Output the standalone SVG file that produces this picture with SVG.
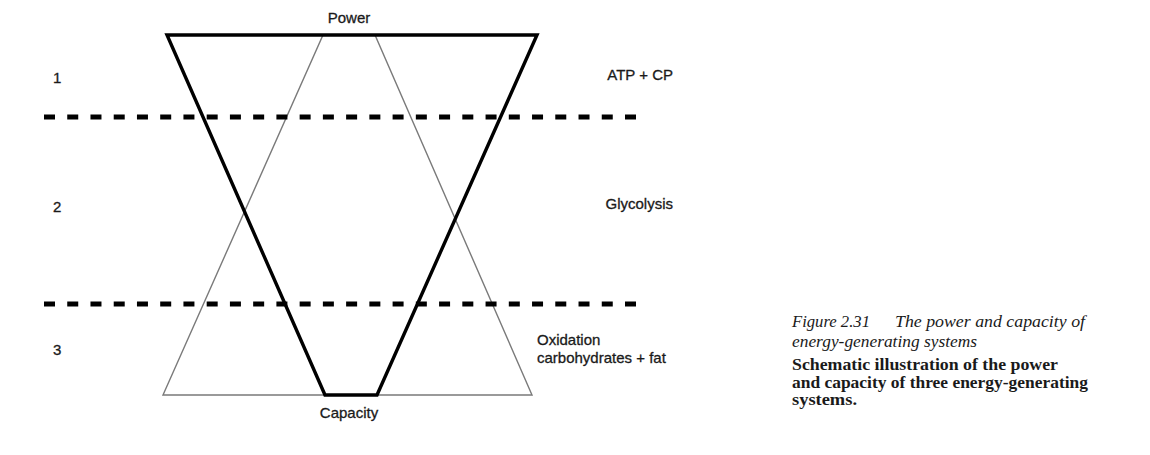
<svg xmlns="http://www.w3.org/2000/svg" width="1150" height="455" viewBox="0 0 1150 455">
  <style>
    .lbl { font-family: "Liberation Sans", Arial, sans-serif; font-size: 15px; fill: #1a1a1a; stroke: #1a1a1a; stroke-width: 0.3; }
    .cap { font-family: "Liberation Serif", "Times New Roman", serif; font-size: 16.5px; fill: #1a1a1a; }
    .capi { font-style: italic; }
    .capb { font-weight: bold; }
    .thick { fill: none; stroke: #000; stroke-width: 3.4; stroke-linejoin: miter; }
    .thin { fill: none; stroke: #7a7a7a; stroke-width: 1.4; }
    .dash { stroke: #000; stroke-width: 4.8; stroke-dasharray: 11 12.24; }
  </style>
  <rect width="1150" height="455" fill="#fff"/>
  <g id="capacity-triangle">
    <polygon class="thin" points="323,35 375,35 532,395 163,395"/>
  </g>
  <g id="power-triangle">
    <polygon class="thick" points="167,35 537,35 377,395 325,395"/>
  </g>
  <g id="dividers">
    <line class="dash" x1="44" y1="117" x2="636" y2="117"/>
    <line class="dash" x1="44" y1="304" x2="636" y2="304"/>
  </g>
  <g id="axis-labels">
    <text class="lbl" x="349" y="23" text-anchor="middle">Power</text>
    <text class="lbl" x="349" y="418" text-anchor="middle">Capacity</text>
  </g>
  <g id="zone-numbers">
    <text class="lbl" x="53" y="83">1</text>
    <text class="lbl" x="53" y="212">2</text>
    <text class="lbl" x="53" y="355">3</text>
  </g>
  <g id="system-labels">
    <text class="lbl" x="673" y="80" text-anchor="end">ATP + CP</text>
    <text class="lbl" x="673" y="209" text-anchor="end">Glycolysis</text>
    <text class="lbl" x="537" y="345">Oxidation</text>
    <text class="lbl" x="537" y="363">carbohydrates + fat</text>
  </g>
  <g id="caption">
    <text class="cap capi" x="792" y="327" textLength="78" lengthAdjust="spacingAndGlyphs">Figure 2.31</text>
    <text class="cap capi" x="895" y="327" textLength="190" lengthAdjust="spacingAndGlyphs">The power and capacity of</text>
    <text class="cap capi" x="792" y="347" textLength="185" lengthAdjust="spacingAndGlyphs">energy-generating systems</text>
    <text class="cap capb" x="792" y="370" textLength="266" lengthAdjust="spacingAndGlyphs">Schematic illustration of the power</text>
    <text class="cap capb" x="792" y="388" textLength="296" lengthAdjust="spacingAndGlyphs">and capacity of three energy-generating</text>
    <text class="cap capb" x="792" y="405" textLength="65" lengthAdjust="spacingAndGlyphs">systems.</text>
  </g>
</svg>
